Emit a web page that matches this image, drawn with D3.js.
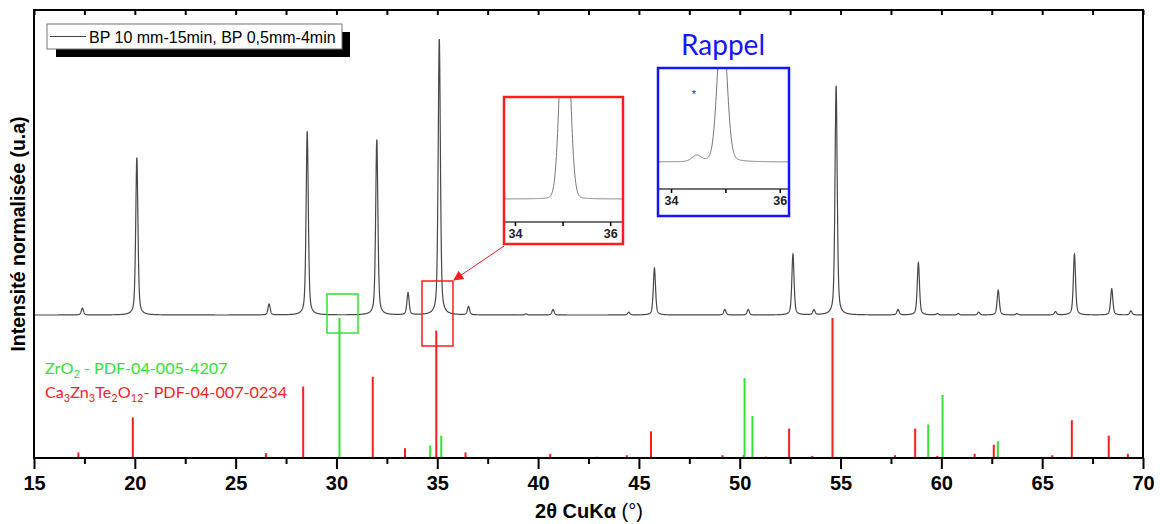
<!DOCTYPE html>
<html><head><meta charset="utf-8">
<script src="https://cdn.jsdelivr.net/npm/d3@7"></script>
<style>
html,body{margin:0;padding:0;background:#fff;}
svg{display:block;font-family:"Liberation Sans",Arial,sans-serif;}
</style></head>
<body><svg id="c" width="1160" height="524"></svg>
<script>
// ---- data ----
const xTicksMajor = [15,20,25,30,35,40,45,50,55,60,65,70];
const xTicksMinor = [17.5,22.5,27.5,32.5,37.5,42.5,47.5,52.5,57.5,62.5,67.5];
// measured pattern peaks (2θ, normalised intensity %)
const patternPos = [17.4,20.1,26.66,28.55,32.0,33.55,35.1,36.55,39.4,40.74,44.5,45.77,49.26,50.42,52.64,53.68,54.78,57.85,58.86,59.8,60.84,61.85,62.82,63.75,65.66,66.6,68.45,69.4];
const patternInt = [2.5,57,4,66.5,63.5,8,100,3,0.4,2,1,17,2,2,22,1.8,83,2,19,0.5,0.5,1,9,0.5,1.2,22,9.5,1.5];
// reference sticks
const redPos = [17.2,19.9,26.5,28.35,31.8,33.4,34.95,36.4,40.6,44.4,45.6,49.15,50.2,51.3,52.45,53.6,54.6,57.7,58.7,59.8,61.65,62.6,65.5,66.47,68.3,69.25];
const redInt = [4,29,3.5,51,58,7,91,4,3,2,19,2,2,1,21,1.5,100,2,21,1.5,3,9.5,2,27,16,3];
const greenPos = [30.15,34.65,35.2,42.9,50.24,50.63,59.35,60.06,62.8];
const greenInt = [100,9,16,1,57,30,24,45,12];
// inset peaks
const insetRedPos = [35.05];
const insetRedInt = [232];
const insetBluePos = [34.47,34.94];
const insetBlueInt = [6,150];
const insetTicks = [34,35,36];
const insetLabels = [34,36];

const legendText = "BP 10 mm-15min, BP 0,5mm-4min";
const yTitle = "Intensité normalisée (u.a)";

// ---- setup ----
const svg = d3.select("#c");
const L = 34, R = 1143, T = 10, B = 458;
const x = d3.scaleLinear().domain([15,70]).range([L,R]);
const yP = d3.scaleLinear().domain([0,100]).range([315,39]);
const yS = d3.scaleLinear().domain([0,100]).range([B,318]);
const RED = "#ff1c1c", GREEN = "#33e033", BLUE = "#1515ff";

function profile(pos, ints, hw, eta, lo, hi, step){
  const pts=[];
  for(let t=lo;t<=hi+1e-9;t+=step){
    let s=0;
    for(let i=0;i<pos.length;i++){
      const d=(t-pos[i])/hw;
      if(Math.abs(d)>60) continue;
      s+=ints[i]*(eta/(1+d*d)+(1-eta)*Math.exp(-Math.LN2*d*d));
    }
    pts.push([t,s]);
  }
  return pts;
}

// sticks
const sticks = svg.append("g");
sticks.selectAll("line.r").data(redPos.map((p,i)=>[p,redInt[i]])).join("line")
  .attr("x1",d=>x(d[0])).attr("x2",d=>x(d[0])).attr("y1",yS(0)).attr("y2",d=>yS(d[1]))
  .attr("stroke",RED).attr("stroke-width",2);
sticks.selectAll("line.g").data(greenPos.map((p,i)=>[p,greenInt[i]])).join("line")
  .attr("x1",d=>x(d[0])).attr("x2",d=>x(d[0])).attr("y1",yS(0)).attr("y2",d=>yS(d[1]))
  .attr("stroke",GREEN).attr("stroke-width",2);

// pattern
const pat = profile(patternPos, patternInt, 0.065, 0.5, 15, 70, 0.005);
svg.append("path").datum(pat)
  .attr("d", d3.line().x(d=>x(d[0])).y(d=>yP(d[1])))
  .attr("fill","none").attr("stroke","#484848").attr("stroke-width",1.2);

// frame & axes
svg.append("rect").attr("x",L).attr("y",T).attr("width",R-L).attr("height",B-T)
  .attr("fill","none").attr("stroke","#000").attr("stroke-width",2);
const axB = svg.append("g").attr("transform",`translate(0,${B})`)
  .call(d3.axisBottom(x).tickValues(xTicksMajor).tickSize(11).tickSizeOuter(0).tickPadding(7).tickFormat(d3.format("d")));
axB.select(".domain").remove();
axB.selectAll("line").attr("stroke-width",2);
axB.selectAll("text").attr("font-size",20).attr("font-weight","bold").attr("fill","#000")
   .attr("font-family","'Liberation Sans',Arial,sans-serif");
const axBm = svg.append("g").attr("transform",`translate(0,${B})`)
  .call(d3.axisBottom(x).tickValues(xTicksMinor).tickSize(6).tickFormat(""));
axBm.select(".domain").remove(); axBm.selectAll("line").attr("stroke-width",2);
const axT = svg.append("g").attr("transform",`translate(0,${T})`)
  .call(d3.axisBottom(x).tickValues(xTicksMajor.concat(xTicksMinor)).tickSize(5).tickFormat(""));
axT.select(".domain").remove(); axT.selectAll("line").attr("stroke-width",2);

// axis titles
const xt = svg.append("text").attr("x",589).attr("y",518).attr("text-anchor","middle")
  .attr("font-size",20).attr("font-weight","bold");
xt.append("tspan").text("2θ CuKα ");
xt.append("tspan").attr("font-weight","normal").text("(°)");
svg.append("text").attr("transform","translate(25,234) rotate(-90)").attr("text-anchor","middle")
  .attr("font-size",19.5).attr("font-weight","bold").text(yTitle);

// legend
svg.append("rect").attr("x",56).attr("y",32).attr("width",294).attr("height",25).attr("fill","#000");
svg.append("rect").attr("x",47).attr("y",24).attr("width",295).attr("height",25).attr("fill","#fff").attr("stroke","#777").attr("stroke-width",1);
svg.append("line").attr("x1",50).attr("x2",86).attr("y1",36.5).attr("y2",36.5).attr("stroke","#444").attr("stroke-width",1);
svg.append("text").attr("x",89).attr("y",42.5).attr("font-size",16).text(legendText);

// phase labels
const g1 = svg.append("text").attr("x",45).attr("y",374).attr("fill",GREEN).attr("font-size",16.2).attr("font-family","Lato, sans-serif");
g1.append("tspan").text("ZrO");
g1.append("tspan").attr("font-size",11).attr("dy",4).text("2");
g1.append("tspan").attr("dy",-4).text(" - PDF-04-005-4207");
const g2 = svg.append("text").attr("x",45).attr("y",398).attr("fill",RED).attr("font-size",16.2).attr("font-family","Lato, sans-serif");
[["Ca",0],["3",1],["Zn",0],["3",1],["Te",0],["2",1],["O",0],["12",1],["- PDF-04-007-0234",0]].forEach((p,i,a)=>{
  const prevSub = i>0 && a[i-1][1];
  g2.append("tspan").attr("font-size",p[1]?11:null)
    .attr("dy", p[1]? (prevSub?0:4) : (prevSub?-4:0)).text(p[0]);
});

// highlight boxes
svg.append("rect").attr("x",327).attr("y",294).attr("width",31).attr("height",39).attr("fill","none").attr("stroke",GREEN).attr("stroke-width",1.5);
svg.append("rect").attr("x",422).attr("y",281).attr("width",31).attr("height",65).attr("fill","none").attr("stroke",RED).attr("stroke-width",1.5);

// arrow
svg.append("defs").append("marker").attr("id","ah").attr("viewBox","0 0 10 10").attr("refX",9).attr("refY",5)
  .attr("markerWidth",12).attr("markerHeight",10).attr("markerUnits","userSpaceOnUse").attr("orient","auto")
  .append("path").attr("d","M0,0L10,5L0,10Z").attr("fill",RED);
svg.append("line").attr("x1",504).attr("y1",246).attr("x2",454).attr("y2",280).attr("stroke",RED).attr("stroke-width",1).attr("marker-end","url(#ah)");

// inset builder
function inset(id, box, xDom, baseY, axisY, pos, ints, hw, eta, color){
  const sx = d3.scaleLinear().domain(xDom).range([box[0],box[2]]);
  const sy = d3.scaleLinear().domain([0,100]).range([baseY, baseY-100]);
  svg.append("clipPath").attr("id",id).append("rect").attr("x",box[0]).attr("y",box[1]).attr("width",box[2]-box[0]).attr("height",box[3]-box[1]);
  const g = svg.append("g");
  g.append("rect").attr("x",box[0]).attr("y",box[1]).attr("width",box[2]-box[0]).attr("height",box[3]-box[1]).attr("fill","#fff");
  const pts = profile(pos, ints, hw, eta, xDom[0], xDom[1], 0.005);
  g.append("path").datum(pts).attr("clip-path",`url(#${id})`)
    .attr("d", d3.line().x(d=>sx(d[0])).y(d=>sy(d[1])))
    .attr("fill","none").attr("stroke","#777").attr("stroke-width",1);
  const ax = g.append("g").attr("transform",`translate(0,${axisY})`)
    .call(d3.axisBottom(sx).tickValues(insetTicks).tickSize(4).tickSizeOuter(0).tickPadding(3).tickFormat(d=>insetLabels.includes(d)?d:""));
  ax.select(".domain").attr("stroke","#444").attr("stroke-width",1.5).attr("d",`M${box[0]},0H${box[2]}`);
  ax.selectAll("line").attr("stroke-width",1.5);
  ax.selectAll("text").attr("font-size",12.5).attr("font-weight","bold").attr("fill","#222");
  g.append("rect").attr("x",box[0]).attr("y",box[1]).attr("width",box[2]-box[0]).attr("height",box[3]-box[1])
    .attr("fill","none").attr("stroke",color).attr("stroke-width",2.5);
  return g;
}
inset("cr",[504,97,623,244],[33.77,36.27],199,222,insetRedPos,insetRedInt,0.114,0.05,RED);
inset("cb",[658,68,789,216],[33.76,36.17],162,189,insetBluePos,insetBlueInt,0.1,0.15,BLUE);
svg.append("text").attr("x",694).attr("y",98).attr("text-anchor","middle").attr("fill",BLUE).attr("font-size",11).text("*");
svg.append("text").attr("x",723).attr("y",55).attr("text-anchor","middle").attr("fill",BLUE).attr("font-size",28).attr("font-family","Lato, sans-serif").text("Rappel");
</script></body></html>
